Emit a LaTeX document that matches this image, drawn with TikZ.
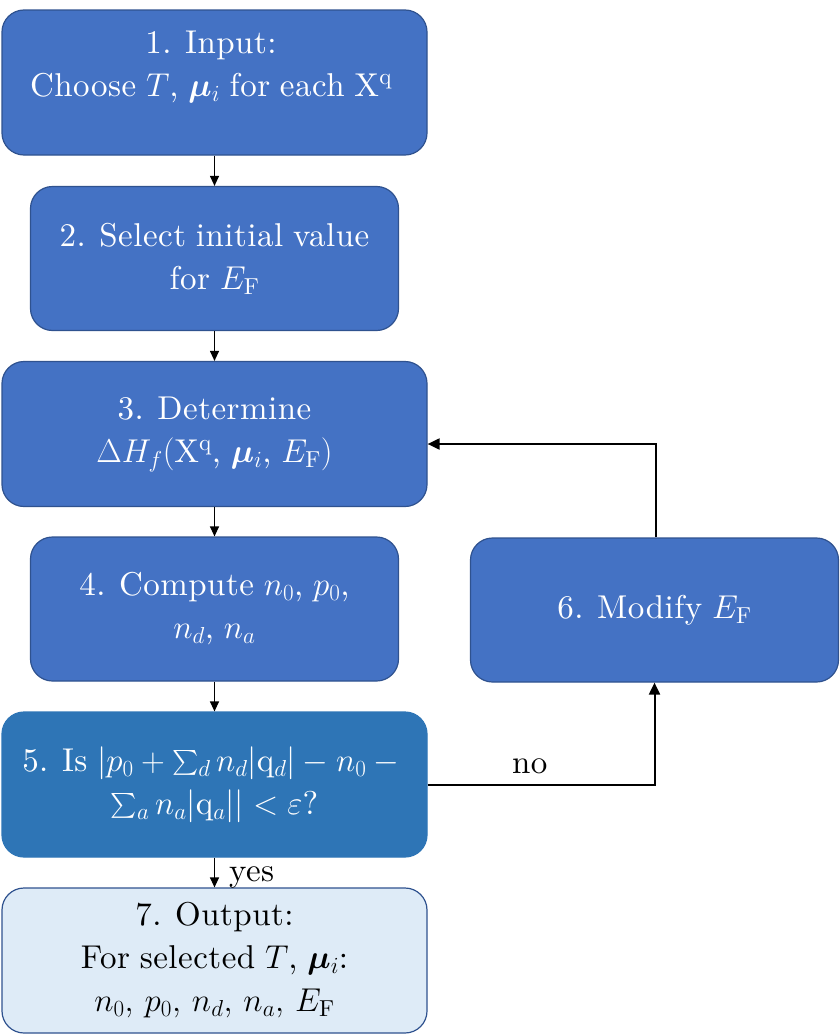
\RequirePackage{fix-cm}
\documentclass[tikz,border=0pt]{standalone}
\usepackage{amsmath,bm}
\usepackage{fontspec}
\setmainfont{lmroman10-regular.otf}[LetterSpace=1.5, WordSpace=0.85]
\usetikzlibrary{arrows.meta}
\definecolor{boxblue}{HTML}{4472C4}
\definecolor{boxedge}{HTML}{2F528F}
\definecolor{decblue}{HTML}{2E75B6}
\definecolor{outfill}{HTML}{DEEBF7}
\tikzset{
  box/.style={draw=boxedge, line width=1.2pt, fill=boxblue, rounded corners=22pt,
    text=white, align=center, inner sep=0pt, font=\fontsize{33}{43}\selectfont},
  boxtext/.style={text=white, align=center, inner sep=0pt, font=\fontsize{33}{43}\selectfont},
  wide/.style={minimum width=425pt, minimum height=145pt},
  narrow/.style={minimum width=368pt, minimum height=144pt},
  arr/.style={line width=1.2pt, -{Triangle[length=10pt,width=9pt]}},
  arrb/.style={line width=2pt, -{Triangle[length=12pt,width=11pt]}},
  lbl/.style={font=\fontsize{33}{40}\selectfont, text=black}
}
\begin{document}
\begin{tikzpicture}[x=1pt,y=-1pt]
\useasboundingbox (0,0) rectangle (840,1036);
\node[box, wide] (b1) at (214.5,82.5) {};
\node[boxtext] (b1t) at (211,67) {1. Input:\\Choose $T$, $\bm{\mu}_i$ for each $\mathrm{X}^\mathrm{q}$};
\node[box, narrow] (b2) at (214.5,258.5) {2. Select initial value\\for $E_\mathrm{F}$};
\node[box, wide] (b3) at (214.5,434) {3. Determine\\$\Delta H_f(\mathrm{X}^\mathrm{q}$, $\bm{\mu}_i$, $E_\mathrm{F})$};
\node[box, narrow] (b4) at (214.5,609) {4. Compute $n_0$, $p_0$,\\$n_d$, $n_a$};
\node[box, wide, fill=decblue, draw=decblue] (b5) at (214.5,784.5) {5. Is $|p_0+\sum_d n_d|\mathrm{q}_d|-n_0-{}$\\$\sum_a n_a|\mathrm{q}_a||<\varepsilon$?};
\node[box, narrow] (b6) at (654.5,610) {6. Modify $E_\mathrm{F}$};
\node[box, wide, fill=outfill, text=black] (b7) at (214.5,960.5) {7. Output:\\For selected $T$, $\bm{\mu}_i$:\\$n_0,\, p_0,\, n_d,\, n_a,\, E_\mathrm{F}$};
\draw[arr] (b1) -- (b2);
\draw[arr] (b2) -- (b3);
\draw[arr] (b3) -- (b4);
\draw[arr] (b4) -- (b5);
\draw[arr] (b5) -- node[lbl, right, inner sep=0pt, xshift=14pt, yshift=-5pt] {yes} (b7);
\draw[arrb] (b5.east) -| node[lbl, pos=0.225, above, inner sep=10pt] {no} (b6.south);
\draw[arrb] ([xshift=1.5pt]b6.north) |- ([yshift=-10pt]b3.east);
\end{tikzpicture}
\end{document}
